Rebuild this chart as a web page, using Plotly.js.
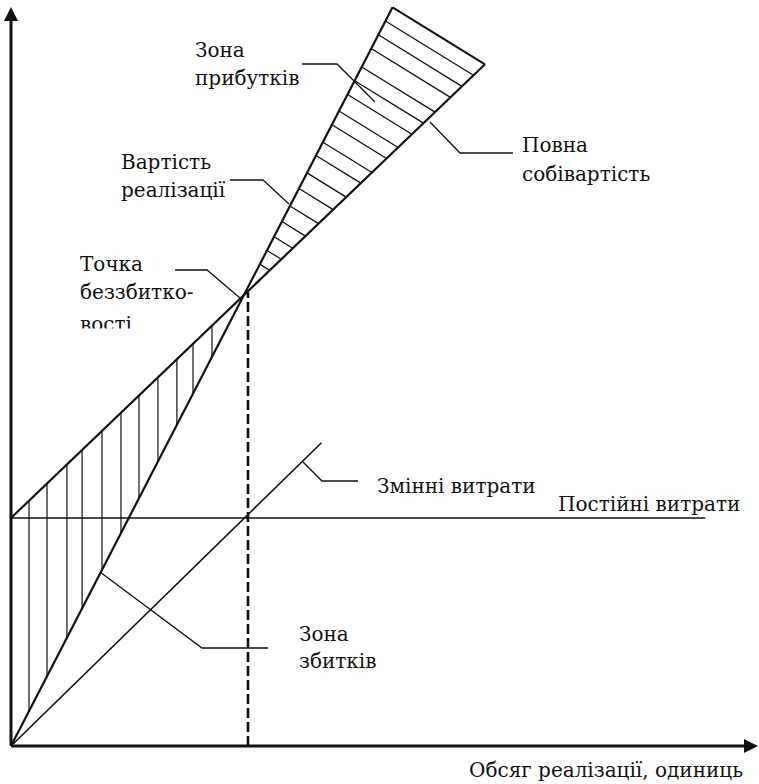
<!DOCTYPE html>
<html><head><meta charset="utf-8">
<script src="https://cdn.plot.ly/plotly-3.0.1.min.js"></script>
<style>html,body{margin:0;padding:0;background:#fff}#chart{width:759px;height:784px}</style>
</head><body><div id="chart"></div>
<script>
// ---- Data (volume Q in units, money C in conventional units) ----
const revenueQ   = [0, 16.1];   // Вартість реалізації
const revenueC   = [0, 3240];
const fullCostQ  = [0, 20.0];   // Повна собівартість
const fullCostC  = [1000, 2990];
const variableQ  = [0, 13.1];   // Змінні витрати
const variableC  = [0, 1330];
const fixedQ     = [0, 29.3];   // Постійні витрати
const fixedC     = [1000, 1000];
const breakEvenQ = [10, 10];    // vertical dashed line at break-even volume
const breakEvenC = [0, 1990];
const lossHatchQ   = [0.76, 1.52, 2.36, 3.0, 3.84, 4.64, 5.4, 6.2, 7.0, 7.68, 8.48];
const profitHatchQ = [15.8, 15.5, 15.2, 14.8, 14.5, 14.2, 13.84, 13.54, 13.16, 12.87, 12.49, 12.15, 11.77, 11.43, 11.1, 10.8, 10.5];
const axisEndQ = 31.52;
const axisEndC = 3241;

// ---- Text labels ----
const labelTexts = ['Зона','прибутків','Вартість','реалізації','Точка','беззбитко-','вості',
  'Повна','собівартість','Змінні витрати','Постійні витрати','Зона','збитків'];
const xAxisLabel = 'Обсяг реалізації, одиниць';

// ---- layout geometry (pixels) ----
const W = 759, H = 784;
const labelPos = [[193,50],[193,78],[119,162],[119,190],[78,264],[78,292],[78,324],
  [520,145],[520,174],[375,486],[556,504],[297,634],[297,661]];
const leaders = [
  [[302,64],[337,64],[375,102]],
  [[230,180],[263,180],[289,204]],
  [[175,270],[207,270],[240,298]],
  [[430,122],[460,153],[513,153]],
  [[303,462],[322,481],[358,481]],
  [[100,572],[202,648],[268,648]]
];

function lin(qs, cs) { const s = (cs[1]-cs[0])/(qs[1]-qs[0]); return q => cs[0] + s*(q-qs[0]); }
const rev = lin(revenueQ, revenueC);
const cost = lin(fullCostQ, fullCostC);
const costSlope = (fullCostC[1]-fullCostC[0])/(fullCostQ[1]-fullCostQ[0]);

// loss zone: vertical hatching between full cost and revenue
const lhx = [], lhy = [];
lossHatchQ.forEach(q => { lhx.push(q, q, null); lhy.push(cost(q), rev(q), null); });

// profit zone: hatching parallel to the closing edge (revenue end -> full cost end)
const dQ = fullCostQ[1] - revenueQ[1];
const dC = fullCostC[1] - revenueC[1];
const phx = [], phy = [];
profitHatchQ.forEach(q => {
  const r = rev(q);
  const t = (r - cost(q)) / (costSlope*dQ - dC);
  phx.push(q, q + t*dQ, null); phy.push(r, r + t*dC, null);
});

const black = '#111';
function line(x, y, w, extra) {
  return Object.assign({type:'scatter', mode:'lines', x:x, y:y, hoverinfo:'skip',
    line:{color:black, width:w}, showlegend:false}, extra||{});
}
const traces = [
  line(lhx, lhy, 1.2),
  line(phx, phy, 1.3),
  line(fixedQ, fixedC, 1.6),
  line(variableQ, variableC, 1.6),
  line(fullCostQ, fullCostC, 2.2),
  line(revenueQ, revenueC, 2.2),
  line([revenueQ[1], fullCostQ[1]], [revenueC[1], fullCostC[1]], 2),
  line(breakEvenQ, breakEvenC, 2.6, {line:{color:black, width:2.6, dash:'10px,4px'}}),
  line([0, 0], [0, axisEndC - 40], 3),
  line([0, axisEndQ - 0.4], [0, 0], 3),
  {type:'scatter', mode:'markers', x:[0], y:[axisEndC], hoverinfo:'skip', showlegend:false,
   marker:{symbol:'arrow-up', size:14, color:black, line:{width:0}}},
  {type:'scatter', mode:'markers', x:[axisEndQ], y:[0], hoverinfo:'skip', showlegend:false,
   marker:{symbol:'arrow-right', size:14, color:black, line:{width:0}}}
];

const px = x => x / W, py = y => 1 - y / H;
const font = {family:'DejaVu Serif', size:20, color:'#111'};
const annotations = labelTexts.map((t, i) => ({
  text:t, xref:'paper', yref:'paper', x:px(labelPos[i][0]), y:py(labelPos[i][1]),
  xanchor:'left', yanchor:'middle', showarrow:false, font:font
}));
// the source figure is cut just below the word "вості"
annotations.push({text:' ', xref:'paper', yref:'paper', x:px(74), y:py(328),
  xanchor:'left', yanchor:'top', showarrow:false, width:80, height:16,
  bgcolor:'#ffffff', borderpad:0, font:font});
annotations.push({text:xAxisLabel, xref:'paper', yref:'paper', x:px(745), y:py(770),
  xanchor:'right', yanchor:'middle', showarrow:false, font:font});

const shapes = leaders.map(pts => ({
  type:'path', xref:'paper', yref:'paper',
  path: pts.map((p, i) => (i ? 'L' : 'M') + px(p[0]).toFixed(5) + ',' + py(p[1]).toFixed(5)).join(' '),
  line:{color:black, width:1.3}
}));

const k = 23.7, m = 0.228, ox = 11, oy = 746;
const layout = {
  width:W, height:H, paper_bgcolor:'#fff', plot_bgcolor:'#fff',
  margin:{l:0, r:0, t:0, b:0, pad:0, autoexpand:false},
  xaxis:{range:[-ox/k, (W-ox)/k], visible:false, fixedrange:true},
  yaxis:{range:[-(H-oy)/m, oy/m], visible:false, fixedrange:true},
  showlegend:false, annotations:annotations, shapes:shapes
};
Plotly.newPlot('chart', traces, layout, {staticPlot:true, displayModeBar:false});
</script></body></html>
